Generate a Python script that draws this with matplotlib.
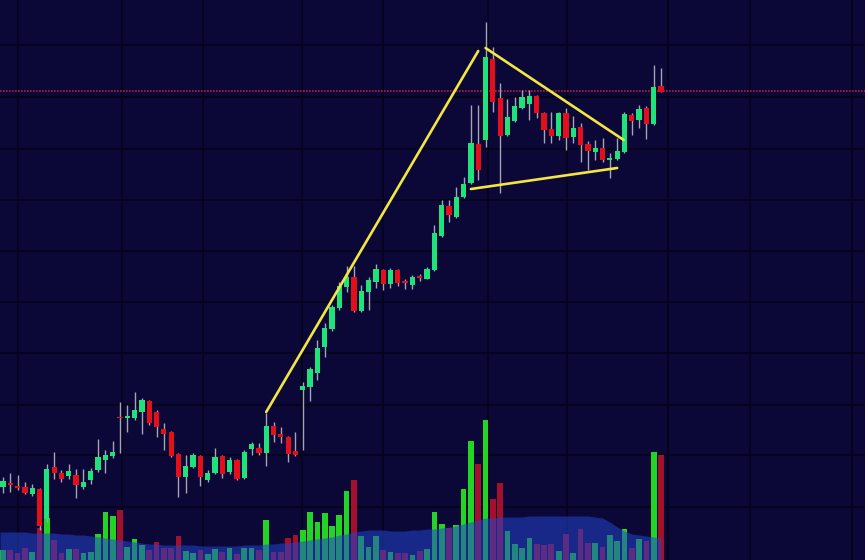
import matplotlib
matplotlib.use("Agg")
import matplotlib.pyplot as plt
import numpy as np

# OHLC (arbitrary price units, one candle per bar)
opens = [73, 77, 74, 73, 66, 71, 41, 93, 87, 84, 85, 73, 80, 90, 100, 104,
         143, 142, 142, 148, 159, 148, 131, 128, 106, 83, 93, 104, 80, 87,
         104, 88, 100, 82, 111, 112, 107, 134, 126, 123, 109, 170, 173, 187,
         213, 231, 252, 273, 283, 249, 268, 278, 290, 276, 290, 279, 275,
         284, 281, 290, 324, 354, 343, 363, 377, 416, 420, 501, 462, 425,
         439, 452, 456, 464, 447, 431, 424, 447, 423, 433, 416, 408, 412,
         400, 401, 408, 445, 440, 452, 436, 474]
highs = [83, 87, 85, 78, 76, 72, 96, 108, 90, 96, 91, 91, 92, 121, 110, 119,
         158, 155, 168, 162, 160, 150, 137, 129, 107, 105, 107, 105, 90, 112,
         105, 103, 101, 110, 118, 117, 147, 138, 133, 124, 128, 178, 193,
         220, 237, 255, 278, 294, 294, 275, 283, 296, 291, 292, 291, 281,
         285, 286, 293, 335, 360, 360, 373, 383, 455, 455, 538, 513, 477,
         461, 463, 470, 470, 465, 448, 448, 448, 452, 444, 437, 419, 420,
         422, 407, 422, 448, 447, 455, 454, 495, 492]
lows = [67, 68, 70, 66, 64, 30, 38, 81, 78, 81, 62, 71, 76, 88, 87, 102,
        107, 128, 140, 126, 135, 123, 110, 103, 63, 67, 92, 74, 78, 86, 82,
        86, 80, 81, 105, 105, 94, 118, 117, 98, 104, 110, 159, 180, 203,
        229, 250, 268, 248, 248, 250, 272, 270, 272, 274, 271, 271, 279,
        281, 289, 323, 338, 342, 362, 376, 380, 413, 448, 367, 424, 438,
        451, 440, 442, 417, 417, 420, 410, 417, 398, 390, 400, 398, 382,
        400, 407, 425, 432, 421, 435, 468]
closes = [79, 75, 72, 67, 72, 34, 91, 87, 81, 89, 75, 78, 89, 103, 105, 108,
          142, 144, 150, 160, 137, 133, 126, 104, 83, 94, 105, 83, 87, 103,
          86, 100, 81, 108, 116, 107, 134, 125, 123, 106, 105, 174, 191, 212,
          232, 253, 274, 283, 249, 269, 280, 291, 276, 290, 277, 277, 283,
          282, 291, 327, 355, 345, 363, 376, 417, 390, 503, 458, 424, 443,
          454, 463, 464, 447, 430, 424, 447, 422, 432, 415, 409, 412, 400,
          402, 409, 446, 439, 451, 436, 473, 468]
volumes = [10, 10, 7, 12, 8, 32, 42, 20, 7, 11, 11, 7, 8, 26, 48, 44, 50, 13,
           21, 15, 10, 18, 12, 12, 24, 9, 7, 10, 6, 11, 8, 12, 6, 12, 12, 10,
           40, 8, 8, 22, 25, 30, 48, 38, 47, 34, 45, 69, 80, 24, 13, 24, 10,
           8, 7, 7, 5, 9, 11, 48, 36, 32, 35, 71, 119, 96, 140, 61, 77, 29,
           16, 12, 22, 16, 15, 16, 9, 26, 7, 31, 17, 17, 13, 25, 19, 31, 12,
           21, 19, 108, 105]
vol_avg = [28, 28, 28, 28, 27, 27, 27, 27, 26, 26, 25, 25, 24, 23, 22, 21,
           20, 19, 18, 17, 16, 16, 15, 15, 15, 15, 15, 14, 14, 14, 14, 14,
           14, 15, 15, 15, 16, 16, 17, 17, 18, 19, 20, 21, 22, 23, 25, 26,
           28, 29, 30, 30, 30, 29, 29, 29, 30, 30, 31, 31, 32, 33, 34, 36,
           38, 40, 42, 42, 43, 43, 43, 43, 44, 44, 44, 44, 44, 44, 44, 44,
           44, 43, 42, 38, 33, 29, 26, 25, 24, 23, 22]

# hand-drawn pattern lines: (bar index, price) pairs
pole_line = [(36, 148), (65, 509)]
upper_line = [(66, 512), (84.9, 420)]
lower_line = [(64, 371), (84, 392)]
resistance = 469

bg = "#0b0736"
grid_col = "#05031c"
up_col = "#1fe27a"
down_col = "#e3101c"
wick_col = "#a4a4b4"

idx = np.arange(len(opens))
o = np.array(opens)
h = np.array(highs)
l = np.array(lows)
c = np.array(closes)
up = c >= o

fig = plt.figure(figsize=(8.65, 5.6), dpi=100)
fig.patch.set_facecolor(bg)

# volume pane underneath
axv = fig.add_axes([0, 0, 1, 1])
axv.set_facecolor(bg)
axv.set_xlim(-0.41, 117.9)
axv.set_ylim(0, 560)
for gx in [2.05, 16.3, 27.4, 40.9, 52.0, 66.3, 77.2, 91.0, 102.2, 116.1]:
    axv.axvline(gx, color=grid_col, lw=1.3, zorder=0)
for gy in [515, 463, 411, 360, 309, 258, 207, 155, 105, 53]:
    axv.axhline(gy, color=grid_col, lw=1.3, zorder=0)
vol_cols = np.where(up, "#22d426", "#a3102c")
axv.bar(idx, volumes, width=0.78, color=vol_cols, zorder=2)
# moving-average band runs from the left edge of the chart
avg_x = np.concatenate([[-0.41], idx])
avg_y = np.concatenate([[vol_avg[0]], vol_avg])
axv.fill_between(avg_x, 0, avg_y, color="#2244cc", alpha=0.55, lw=0, zorder=3)
axv.axis("off")

# price pane on top
ax = fig.add_axes([0, 0, 1, 1], sharex=axv)
ax.patch.set_alpha(0)
ax.set_ylim(0, 560)

ax.axhline(resistance, color="#b0203c", lw=1.2, ls=(0, (1, 0.8)), zorder=1)

ax.vlines(idx, l, h, color=wick_col, lw=1.0, zorder=2)
body_lo = np.minimum(o, c)
body_h = np.maximum(np.abs(c - o), 1.5)
ax.bar(idx, body_h, bottom=body_lo, width=0.72,
       color=np.where(up, up_col, down_col), zorder=3)

for line in [pole_line, upper_line, lower_line]:
    xs, ys = zip(*line)
    ax.plot(xs, ys, color="#f2e642", lw=1.9, solid_capstyle="round", zorder=4)

ax.axis("off")

fig.savefig("out.png", dpi=100, facecolor=bg)
